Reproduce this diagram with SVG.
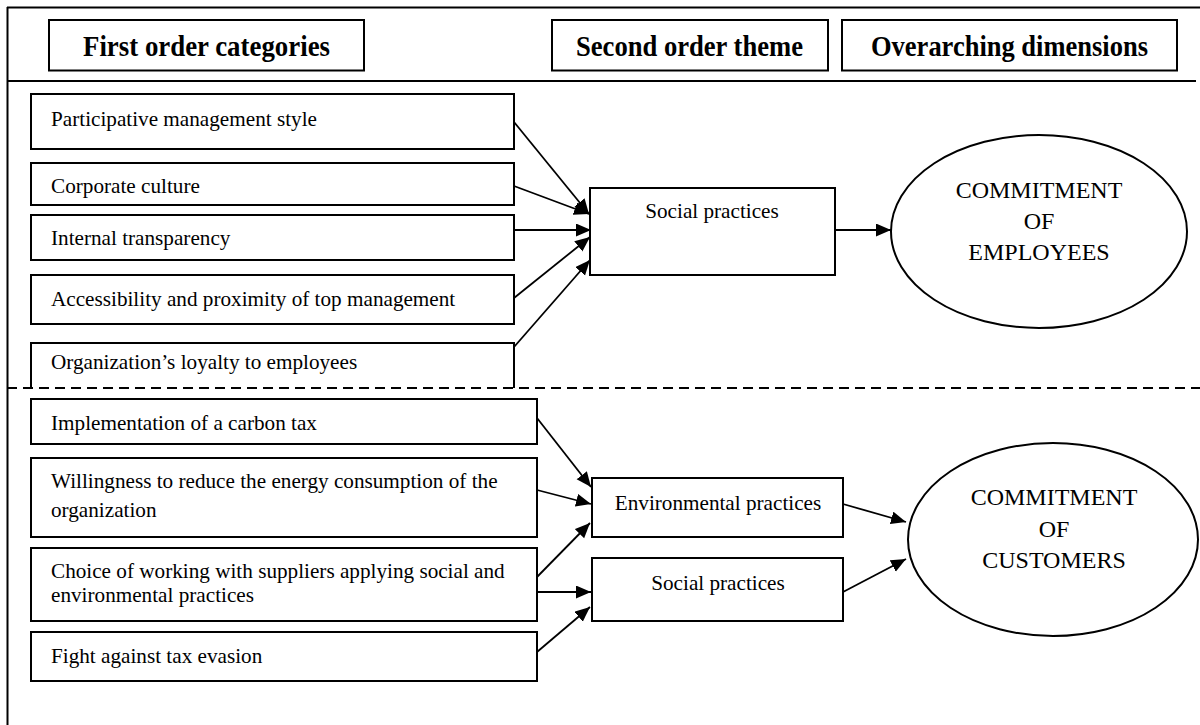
<svg xmlns="http://www.w3.org/2000/svg" width="1200" height="725" viewBox="0 0 1200 725">
<style>
.frame{stroke:#000;stroke-width:2;fill:none}
.box{stroke:#000;stroke-width:2;fill:#fff}
.hdr{font-family:"Liberation Serif","Times New Roman",serif;font-weight:bold;font-size:30px;fill:#000}
.t{font-family:"Liberation Serif","Times New Roman",serif;font-size:21.2px;fill:#000}
.c{font-family:"Liberation Serif","Times New Roman",serif;font-size:21.2px;fill:#000;text-anchor:middle}
.e{font-family:"Liberation Serif","Times New Roman",serif;font-size:24px;fill:#000;text-anchor:middle}
.conn line{stroke:#000;stroke-width:1.8;marker-end:url(#ah)}
</style>
<defs>
<marker id="ah" markerUnits="userSpaceOnUse" markerWidth="16" markerHeight="14" refX="15" refY="6.5" orient="auto">
<path d="M0,0 L15,6.5 L0,13 z" fill="#000"/>
</marker>
</defs>
<rect width="1200" height="725" fill="#fff"/>
<g id="frame">
<line class="frame" x1="7" y1="7.5" x2="1200" y2="7.5"/>
<line class="frame" x1="7.5" y1="7" x2="7.5" y2="725"/>
<line class="frame" x1="7" y1="81" x2="1196" y2="81"/>
<line x1="7" y1="388" x2="1200" y2="388" stroke="#000" stroke-width="2" stroke-dasharray="10,6"/>
</g>
<g id="header1"><rect class="box" x="49" y="20" width="315" height="50.5"/><text class="hdr" x="83" y="56" textLength="247" lengthAdjust="spacingAndGlyphs">First order categories</text></g>
<g id="header2"><rect class="box" x="552" y="20" width="276" height="50.5"/><text class="hdr" x="576" y="56" textLength="227" lengthAdjust="spacingAndGlyphs">Second order theme</text></g>
<g id="header3"><rect class="box" x="842" y="20" width="335" height="50.5"/><text class="hdr" x="871" y="56" textLength="277" lengthAdjust="spacingAndGlyphs">Overarching dimensions</text></g>

<g id="item-participative"><rect class="box" x="31" y="94" width="483" height="55"/><text class="t" x="51" y="126">Participative management style</text></g>
<g id="item-culture"><rect class="box" x="31" y="163" width="483" height="42"/><text class="t" x="51" y="193">Corporate culture</text></g>
<g id="item-transparency"><rect class="box" x="31" y="215" width="483" height="45"/><text class="t" x="51" y="245">Internal transparency</text></g>
<g id="item-accessibility"><rect class="box" x="31" y="275" width="483" height="49"/><text class="t" x="51" y="306">Accessibility and proximity of top management</text></g>
<g id="item-loyalty"><path class="frame" d="M31,388 V343 H514 V388"/><text class="t" x="51" y="369">Organization’s loyalty to employees</text></g>

<g id="item-carbon"><rect class="box" x="31" y="399" width="506" height="45"/><text class="t" x="51" y="430">Implementation of a carbon tax</text></g>
<g id="item-energy"><rect class="box" x="31" y="458" width="506" height="79"/><text class="t" x="51" y="488">Willingness to reduce the energy consumption of the</text><text class="t" x="51" y="517">organization</text></g>
<g id="item-suppliers"><rect class="box" x="31" y="548" width="506" height="73"/><text class="t" x="51" y="578">Choice of working with suppliers applying social and</text><text class="t" x="51" y="602">environmental practices</text></g>
<g id="item-taxevasion"><rect class="box" x="31" y="632" width="506" height="49"/><text class="t" x="51" y="663">Fight against tax evasion</text></g>

<g id="theme-social1"><rect class="box" x="590" y="188" width="245" height="87"/><text class="c" x="712" y="218">Social practices</text></g>
<g id="theme-env"><rect class="box" x="592" y="478" width="251" height="59"/><text class="c" x="718" y="510">Environmental practices</text></g>
<g id="theme-social2"><rect class="box" x="592" y="558" width="251" height="63"/><text class="c" x="718" y="590">Social practices</text></g>

<g id="dim-employees"><ellipse class="box" cx="1039" cy="231.5" rx="148" ry="96.5"/><text class="e" x="1039" y="198">COMMITMENT</text><text class="e" x="1039" y="229">OF</text><text class="e" x="1039" y="260">EMPLOYEES</text></g>
<g id="dim-customers"><ellipse class="box" cx="1053" cy="539.5" rx="145" ry="96.5"/><text class="e" x="1054" y="505">COMMITMENT</text><text class="e" x="1054" y="537">OF</text><text class="e" x="1054" y="568">CUSTOMERS</text></g>

<g id="connectors" class="conn">
<line x1="514" y1="122" x2="589" y2="214"/>
<line x1="514" y1="186" x2="589" y2="214"/>
<line x1="514" y1="230" x2="591" y2="230"/>
<line x1="514" y1="298" x2="590" y2="237"/>
<line x1="514" y1="347" x2="590" y2="260"/>
<line x1="835" y1="230" x2="891" y2="230"/>
<line x1="537" y1="418" x2="591" y2="487"/>
<line x1="537" y1="490" x2="591" y2="504"/>
<line x1="537" y1="577" x2="590" y2="523"/>
<line x1="537" y1="592" x2="591" y2="592"/>
<line x1="537" y1="652" x2="590" y2="607"/>
<line x1="843" y1="504" x2="906" y2="522"/>
<line x1="843" y1="592" x2="906" y2="559"/>
</g>
</svg>
